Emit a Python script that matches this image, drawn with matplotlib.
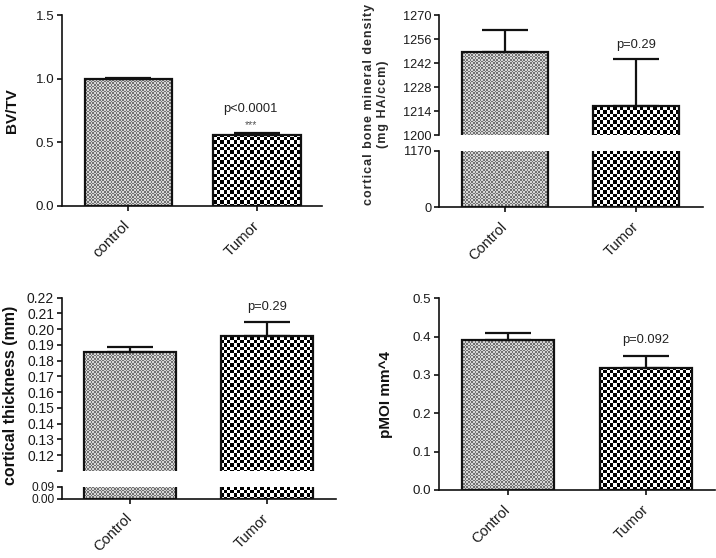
import numpy as np
import matplotlib
matplotlib.use("Agg")
import matplotlib.pyplot as plt

plt.rcParams['font.family'] = ['Liberation Sans', 'DejaVu Sans']

# data
groups_a = ['control', 'Tumor']
groups_b = ['Control', 'Tumor']

bvtv = [1.0, 0.56]
bvtv_err = [0.003, 0.015]

bmd = [1248.5, 1216.9]
bmd_err = [12.9, 27.3]

ct = [0.1857, 0.1958]
ct_err = [0.0033, 0.0086]

pmoi = [0.392, 0.319]
pmoi_err = [0.018, 0.031]

W, H = 716, 558
fig = plt.figure(figsize=(W / 100, H / 100), dpi=100)

# fill textures (figure pixel grid), clipped to each bar later
yy, xx = np.mgrid[0:H, 0:W]
fine = ((xx // 1.67).astype(int) + (yy // 1.67).astype(int)) % 2
tex_ctrl = np.where(fine[..., None] == 0, [0.45, 0.45, 0.45], [0.84, 0.84, 0.84])
coarse = ((xx // 3.33).astype(int) + (yy // 3.33).astype(int)) % 2
tex_tum = np.where(coarse[..., None] == 0, [0.0, 0.0, 0.0], [1.0, 1.0, 1.0])
textures = [tex_ctrl, tex_tum]

ink = '#111111'


def px_axes(l, t, r, b):
    ax = fig.add_axes([l / W, 1 - b / H, (r - l) / W, (b - t) / H])
    ax.patch.set_visible(False)
    for s in ['top', 'right']:
        ax.spines[s].set_visible(False)
    for s in ['left', 'bottom']:
        ax.spines[s].set_linewidth(1.2)
        ax.spines[s].set_color(ink)
    ax.tick_params(direction='out', length=3.6, width=1.2, color=ink,
                   labelcolor='#1a1a1a', labelsize=9.6, pad=2)
    return ax


def draw_bars(ax, vals, errs, width, xlim):
    bars = ax.bar([0, 1], vals, width=width, facecolor='none',
                  edgecolor=ink, linewidth=1.6, zorder=2)
    for i, p in enumerate(bars.patches):
        im = fig.figimage(textures[i], 0, 0, origin='upper', zorder=-1)
        im.set_clip_path(p.get_path(), p.get_transform())
        im.set_clip_box(ax.bbox)
    if errs is not None:
        ax.errorbar([0, 1], vals, yerr=[[0, 0], errs], fmt='none', ecolor=ink,
                    elinewidth=1.6, capsize=16.5, capthick=1.6, zorder=3)
    ax.set_xlim(*xlim)
    return bars


def set_xlabels(ax, labels, fs=10.8):
    ax.set_xticks([0, 1])
    ax.set_xticklabels(labels, rotation=45, ha='right', va='center',
                       rotation_mode='anchor', fontsize=fs)
    ax.tick_params(axis='x', pad=9)


# ---------- panel 1: BV/TV ----------
ax1 = px_axes(62, 15, 322, 206)
draw_bars(ax1, bvtv, bvtv_err, 0.675, (-0.512, 1.504))
ax1.set_ylim(0, 1.5)
ax1.set_yticks([0, 0.5, 1.0, 1.5])
ax1.set_yticklabels(['0.0', '0.5', '1.0', '1.5'])
set_xlabels(ax1, groups_a)
ax1.set_ylabel('BV/TV', fontsize=11, fontweight='bold', color=ink, labelpad=12)
ax1.annotate('p<0.0001', (0.95, bvtv[1] + bvtv_err[1]), xytext=(0, 13),
             textcoords='offset points', ha='center', va='bottom', fontsize=9.3, color='#222222')
ax1.annotate('***', (0.95, bvtv[1] + bvtv_err[1]), xytext=(0, 2),
             textcoords='offset points', ha='center', va='bottom', fontsize=7.5, color='#555555')

# ---------- panel 2: cortical BMD (broken axis) ----------
ax2u = px_axes(439, 15, 703, 135)
ax2l = px_axes(439, 150.7, 703, 207)
for ax in (ax2u, ax2l):
    draw_bars(ax, bmd, bmd_err if ax is ax2u else None, 0.66, (-0.504, 1.511))
    ax.tick_params(labelsize=9.2)
ax2u.spines['bottom'].set_visible(False)
ax2u.tick_params(axis='x', bottom=False, labelbottom=False)
ax2u.set_ylim(1200, 1270)
ax2u.set_yticks([1200, 1214, 1228, 1242, 1256, 1270])
ax2l.set_ylim(0, 1170)
ax2l.set_yticks([0, 1170])
set_xlabels(ax2l, groups_b, fs=10.5)
ax2u.annotate('p=0.29', (1, bmd[1] + bmd_err[1]), xytext=(0, 6),
              textcoords='offset points', ha='center', va='bottom', fontsize=9.3, color='#222222')
lab2 = '\u200a'.join('cortical bone mineral density') + '\n' + '\u200a'.join('(mg HA/ccm)')
fig.text(376 / W, 1 - 104 / H, lab2, rotation=90, ha='center', va='center',
         fontsize=9, fontweight='bold', color='#2a2a2a', linespacing=1.15)

# ---------- panel 3: cortical thickness (broken axis) ----------
ax3u = px_axes(62, 297.7, 336, 471)
ax3l = px_axes(62, 486.7, 336, 498.7)
for ax in (ax3u, ax3l):
    draw_bars(ax, ct, ct_err if ax is ax3u else None, 0.67, (-0.496, 1.504))
    ax.tick_params(labelsize=10)
ax3u.spines['bottom'].set_visible(False)
ax3u.tick_params(axis='x', bottom=False, labelbottom=False)
ax3u.set_ylim(0.11, 0.22)
ax3u.set_yticks(np.round(np.arange(0.11, 0.2201, 0.01), 2))
ax3u.set_yticklabels([''] + ['%.2f' % v for v in np.arange(0.12, 0.2201, 0.01)])
ax3l.set_ylim(0, 0.09)
ax3l.set_yticks([0, 0.09])
ax3l.set_yticklabels(['0.00', '0.09'], fontsize=8.6)
set_xlabels(ax3l, groups_b, fs=10.5)
ax3u.annotate('p=0.29', (1, ct[1] + ct_err[1]), xytext=(0, 7),
              textcoords='offset points', ha='center', va='bottom', fontsize=9.3, color='#222222')
fig.text(11 / W, 1 - 395 / H, 'cortical thickness (mm)', rotation=90, ha='center',
         va='center', fontsize=11.5, fontweight='bold', color=ink)

# ---------- panel 4: pMOI ----------
ax4 = px_axes(439, 298.3, 715, 490)
draw_bars(ax4, pmoi, pmoi_err, 0.667, (-0.5, 1.5))
ax4.set_ylim(0, 0.5)
ax4.set_yticks([0, 0.1, 0.2, 0.3, 0.4, 0.5])
ax4.set_yticklabels(['0.0', '0.1', '0.2', '0.3', '0.4', '0.5'])
set_xlabels(ax4, groups_b, fs=10.5)
ax4.annotate('p=0.092', (1, pmoi[1] + pmoi_err[1]), xytext=(0, 7),
             textcoords='offset points', ha='center', va='bottom', fontsize=9.3, color='#222222')
fig.text(386 / W, 1 - 394 / H, 'pMOI mm^4', rotation=90, ha='center', va='center',
         fontsize=11, fontweight='bold', color=ink)

fig.savefig('out.png', dpi=100)
